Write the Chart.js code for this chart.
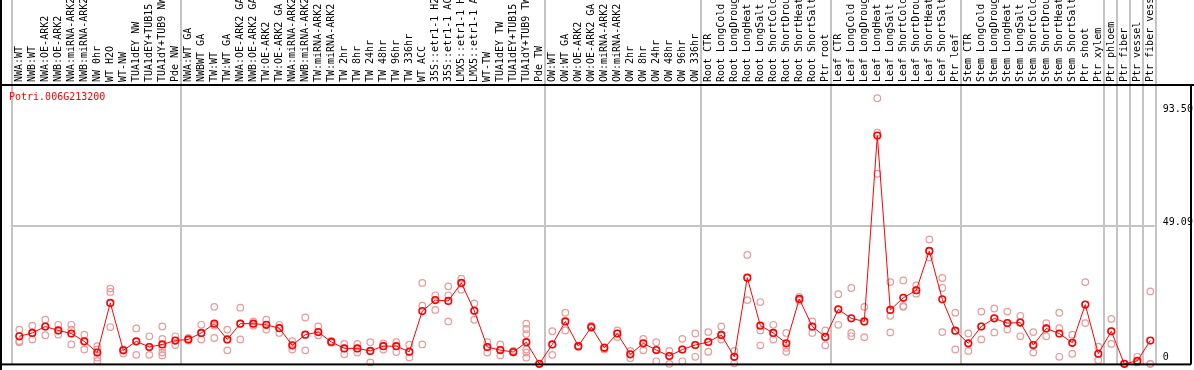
<!DOCTYPE html>
<html>
<head>
<meta charset="utf-8">
<script src="https://cdn.jsdelivr.net/npm/chart.js@4.4.1/dist/chart.umd.min.js"></script>
<style>
  html, body { margin: 0; padding: 0; background: #fff; }
  #wrap { width: 1194px; height: 370px; }
</style>
</head>
<body>
<div id="wrap"><canvas id="grafico" width="1194" height="370"></canvas></div>
<script>
// Gen mostrado
const nombreGen = 'Potri.006G213200';

// Muestras (columnas)
const muestras = [
  'NWA:WT', 'NWB:WT', 'NWA:OE-ARK2', 'NWB:OE-ARK2', 'NWA:miRNA-ARK2', 'NWB:miRNA-ARK2',
  'NW 0hr', 'WT H2O', 'WT-NW', 'TUA1dEY NW', 'TUA1dEY+TUB15 NW', 'TUA1dY+TUB9 NW', 'Pde NW',
  'NWA:WT GA', 'NWBWT GA', 'TW:WT', 'TW:WT GA', 'NWA:OE-ARK2 GA', 'NWB:OE-ARK2 GA',
  'TW:OE-ARK2', 'TW:OE-ARK2 GA', 'NWA:miRNA-ARK2 GA', 'NWB:miRNA-ARK2 GA', 'TW:miRNA-ARK2',
  'TW:miRNA-ARK2 GA', 'TW 2hr', 'TW 8hr', 'TW 24hr', 'TW 48hr', 'TW 96hr', 'TW 336hr',
  'WT ACC', '35S::etr1-1 H2O', '35S::etr1-1 ACC', 'LMX5::etr1-1 H2O', 'LMX5::etr1-1 ACC',
  'WT-TW', 'TUA1dEY TW', 'TUA1dEY+TUB15 TW', 'TUA1dY+TUB9 TW', 'Pde TW',
  'OW:WT', 'OW:WT GA', 'OW:OE-ARK2', 'OW:OE-ARK2 GA', 'OW:miRNA-ARK2', 'OW:miRNA-ARK2 GA',
  'OW 2hr', 'OW 8hr', 'OW 24hr', 'OW 48hr', 'OW 96hr', 'OW 336hr',
  'Root CTR', 'Root LongCold', 'Root LongDrought', 'Root LongHeat', 'Root LongSalt',
  'Root ShortCold', 'Root ShortDrought', 'Root ShortHeat', 'Root ShortSalt', 'Ptr root',
  'Leaf CTR', 'Leaf LongCold', 'Leaf LongDrought', 'Leaf LongHeat', 'Leaf LongSalt',
  'Leaf ShortCold', 'Leaf ShortDrought', 'Leaf ShortHeat', 'Leaf ShortSalt', 'Ptr leaf',
  'Stem CTR', 'Stem LongCold', 'Stem LongDrought', 'Stem LongHeat', 'Stem LongSalt',
  'Stem ShortCold', 'Stem ShortDrought', 'Stem ShortHeat', 'Stem ShortSalt', 'Ptr shoot',
  'Ptr xylem', 'Ptr phloem', 'Ptr fiber', 'Ptr vessel', 'Ptr fiber vessel'
];

// Valor medio por muestra
const medias = [
  9.8, 11.0, 13.3, 11.9, 10.8, 8.0, 4.0, 21.7, 4.8, 8.0, 6.0, 6.9, 8.3,
  8.7, 11.0, 14.3, 8.7, 14.3, 14.3, 13.9, 12.7, 6.6, 10.4, 11.3, 7.8,
  5.5, 5.5, 4.6, 6.3, 6.3, 4.3, 18.8, 22.7, 22.4, 28.8, 18.9, 6.0, 4.9, 4.2, 7.7, 0,
  6.9, 15.1, 6.3, 13.1, 5.7, 10.8, 3.4, 7.3, 4.9, 2.8, 5.1, 6.7,
  7.8, 10.3, 2.5, 30.7, 13.6, 11.0, 7.3, 23.1, 13.3, 9.6,
  19.4, 16.2, 15.1, 81.3, 19.2, 23.5, 26.2, 40.2, 23.0, 11.8,
  7.3, 13.3, 16.2, 14.5, 14.7, 6.7, 12.6, 10.8, 7.5, 21.1, 3.6,
  11.6, 0, 1.05, 8.3
];

// Réplicas por muestra
const replicas = [
  [12.2, 8.1, 7.7], [13.6, 8.7, 11.0], [15.7, 10.2, 13.3], [13.9, 10.4, 11.9],
  [13.9, 12.2, 6.9], [10.4, 5.1, 8.0], [6.3, 5.1, 2.2, 1.05], [26.8, 25.6, 13.1],
  [5.1, 3.7, 4.8], [12.6, 3.2, 8.0], [9.8, 3.2, 6.0], [13.3, 8.9, 5.7, 4.0, 3.0],
  [9.8, 6.7, 8.3], [9.2, 8.3, 8.7], [13.9, 8.7, 11.0], [20.3, 9.2, 13.6],
  [12.2, 4.8, 8.7], [20.0, 8.7, 14.3], [15.1, 13.6, 14.3], [15.7, 12.2, 13.9],
  [13.9, 11.0, 12.7], [8.1, 5.1, 6.6], [16.5, 4.8, 10.4], [13.3, 10.2, 11.3],
  [8.2, 7.5, 7.8], [7.1, 3.4, 5.5], [7.1, 4.0, 5.5], [7.7, 0.5, 4.6],
  [7.3, 5.1, 6.3], [7.7, 4.2, 6.3], [6.8, 2.3, 4.3], [28.8, 20.7, 6.9],
  [24.4, 19.2, 22.7], [27.6, 24.4, 15.1], [30.3, 26.4, 28.8], [21.5, 15.7, 18.9],
  [7.7, 4.0, 6.0], [6.9, 3.0, 4.9], [4.6, 4.0, 4.2], [14.3, 12.4, 10.6, 5.1, 4.0, 2.2],
  [0, 0, 0], [11.6, 3.2, 6.9], [18.2, 11.9, 15.1], [6.3, 6.5, 6.0],
  [13.6, 13.1, 12.8], [5.1, 5.7, 5.9], [11.9, 9.6, 10.8], [4.6, 2.0, 3.4],
  [8.9, 4.8, 7.3], [7.7, 0.9, 4.9], [4.6, 0, 2.8], [8.9, 0.9, 5.1],
  [10.8, 2.5, 6.7], [11.3, 4.3, 7.8], [13.3, 8.7, 10.3], [4.6, 0.2, 2.5],
  [38.8, 22.7, 30.7], [22.0, 11.9, 6.6], [13.9, 8.7, 11.0], [11.0, 5.7, 4.3],
  [23.8, 23.1, 22.5], [15.1, 11.0, 13.3], [11.9, 6.6, 9.6], [24.8, 13.9, 19.4],
  [27.0, 11.0, 9.8], [20.3, 9.5, 15.1], [94.6, 82.3, 67.7], [29.1, 17.1, 11.2],
  [29.7, 20.3, 20.6], [27.9, 25.0, 26.2], [44.3, 37.9, 40.2], [30.6, 27.0, 11.3],
  [18.2, 5.1, 11.8], [10.8, 4.6, 7.3], [18.6, 8.7, 13.3], [19.7, 11.2, 16.2],
  [18.6, 12.2, 14.5], [17.1, 9.8, 14.7], [11.3, 4.0, 6.7], [14.5, 9.8, 12.6],
  [18.2, 12.7, 2.5], [10.4, 3.6, 7.5], [29.1, 14.5, 21.1], [6.1, 1.3, 3.6],
  [16.0, 7.1, 11.6], [0, 0, 0], [2.5, 0.5, 1.05], [25.8, 0, 0]
];

// Índices donde empieza cada grupo (líneas grises verticales)
const inicioGrupos = [0, 13, 41, 53, 63, 73, 84, 85, 86, 87, 88];

// Etiquetas del eje de valores
const marcasValor = [93.50, 49.09, 0];
const lineaGuia = 49.09;

const FUENTE = '10px "DejaVu Sans Mono", monospace';
const GRIS = '#c4c4c4';

const puntosMedia = medias.map((v, i) => ({ x: i, y: v }));
const puntosReplica = [];
replicas.forEach((lista, i) => lista.forEach(v => puntosReplica.push({ x: i, y: v })));

// Plugin: cabecera, separadores, marco y etiquetas
const decoracion = {
  id: 'decoracion',
  beforeDatasetsDraw(chart) {
    const { ctx, chartArea, scales } = chart;
    ctx.save();
    ctx.fillStyle = GRIS;
    // líneas de grupo
    inicioGrupos.forEach(i => {
      const x = Math.round(scales.x.getPixelForValue(i - 0.5) - 2);
      ctx.fillRect(x, 0, 2, chartArea.bottom);
    });
    // línea guía horizontal
    const yg = Math.round(scales.y.getPixelForValue(lineaGuia)) - 1;
    const x0 = scales.x.getPixelForValue(-0.5) - 2;
    const x1 = scales.x.getPixelForValue(muestras.length - 0.5) - 2;
    ctx.fillRect(x0, yg, x1 - x0, 2);
    ctx.restore();
  },
  afterDraw(chart) {
    const { ctx, chartArea, scales, width, height } = chart;
    ctx.save();
    // marco negro
    ctx.fillStyle = '#000';
    ctx.fillRect(0, 0, 2, height);
    ctx.fillRect(0, chartArea.top - 1, width, 2);
    ctx.fillRect(0, chartArea.bottom - 1, width - 3, 2);
    ctx.fillRect(width - 4, chartArea.top - 1, 2, chartArea.bottom - chartArea.top + 1);

    // nombres de muestras, girados
    ctx.font = FUENTE;
    ctx.fillStyle = '#000';
    ctx.textAlign = 'left';
    ctx.textBaseline = 'middle';
    muestras.forEach((m, i) => {
      const x = scales.x.getPixelForValue(i);
      ctx.save();
      ctx.translate(x + 0.5, chartArea.top - 3);
      ctx.rotate(-Math.PI / 2);
      ctx.fillText(m, 0, 0);
      ctx.restore();
    });

    // nombre del gen
    ctx.fillStyle = '#ff0000';
    ctx.textBaseline = 'alphabetic';
    ctx.fillText(nombreGen, 9, chartArea.top + 15);

    // valores a la derecha
    ctx.fillStyle = '#000';
    const maxMarca = Math.max(...marcasValor);
    marcasValor.forEach(v => {
      const py = scales.y.getPixelForValue(v);
      const y = v === maxMarca ? py + 11 : Math.min(py - 1, chartArea.bottom - 4);
      ctx.fillText(v.toFixed(v === 0 ? 0 : 2), chartArea.right + 6, y);
    });
    ctx.restore();
  }
};

new Chart(document.getElementById('grafico'), {
  type: 'line',
  data: {
    datasets: [
      {
        label: 'media',
        data: puntosMedia,
        borderColor: '#ff0000',
        borderWidth: 1,
        pointRadius: 3.3,
        pointBorderWidth: 1.6,
        pointBorderColor: '#ff0000',
        pointBackgroundColor: 'rgba(0,0,0,0)',
        tension: 0,
        clip: false,
        order: 1
      },
      {
        label: 'replicas',
        data: puntosReplica,
        showLine: false,
        pointRadius: 3.3,
        pointBorderWidth: 1.2,
        pointBorderColor: '#e99a9a',
        pointBackgroundColor: 'rgba(0,0,0,0)',
        clip: false,
        order: 2
      }
    ]
  },
  options: {
    responsive: false,
    animation: false,
    layout: { padding: { left: 12.8, right: 37.2, top: 85, bottom: 1 } },
    plugins: { legend: { display: false }, tooltip: { enabled: false } },
    scales: {
      x: { type: 'linear', display: false, min: -0.5, max: muestras.length - 0.5 },
      y: { display: false, min: -0.2, max: 99.3 }
    }
  },
  plugins: [decoracion]
});
</script>
</body>
</html>
